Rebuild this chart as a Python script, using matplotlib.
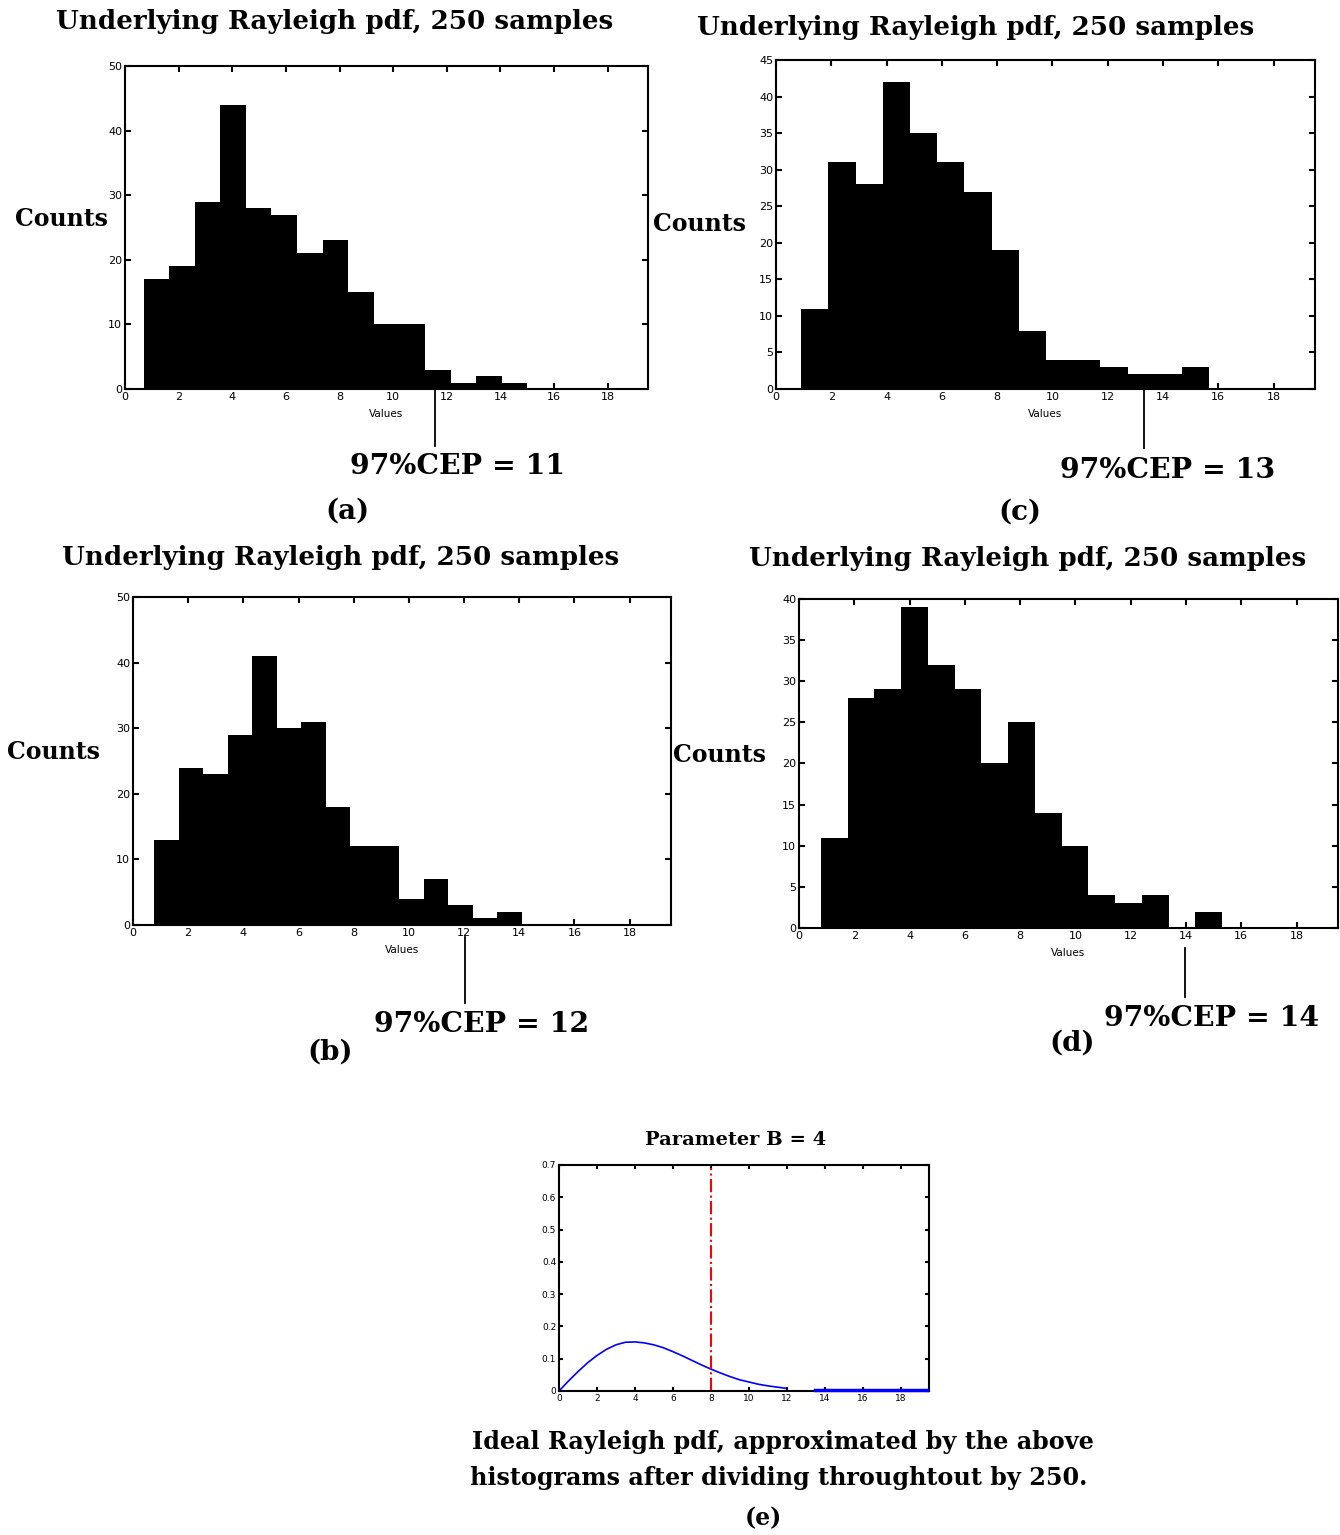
import numpy as np
import matplotlib
matplotlib.use("Agg")
import matplotlib.pyplot as plt

W, H = 1340, 1535

# histogram counts (250 samples each), 15 bins
counts_a = [17, 19, 29, 44, 28, 27, 21, 23, 15, 10, 10, 3, 1, 2, 1]
range_a = (0.69, 15.0)
cep_a = 11.55

counts_b = [13, 24, 23, 29, 41, 30, 31, 18, 12, 12, 4, 7, 3, 1, 2]
range_b = (0.76, 14.1)
cep_b = 12.05

counts_c = [11, 31, 28, 42, 35, 31, 27, 19, 8, 4, 4, 3, 2, 2, 3]
range_c = (0.91, 15.67)
cep_c = 13.3

counts_d = [11, 28, 29, 39, 32, 29, 20, 25, 14, 10, 4, 3, 4, 0, 2]
range_d = (0.79, 15.31)
cep_d = 13.98

# ideal Rayleigh pdf (B = 4)
pdf_x = [0, 0.5, 1, 1.5, 2, 2.5, 3, 3.5, 4, 4.5, 5, 5.5, 6, 6.5, 7, 7.5, 8,
         8.5, 9, 9.5, 10, 10.5, 11, 11.5, 12]
pdf_y = [0, 0.031, 0.060, 0.087, 0.110, 0.129, 0.143, 0.151, 0.152, 0.149,
         0.143, 0.134, 0.122, 0.109, 0.095, 0.081, 0.068, 0.056, 0.045,
         0.035, 0.028, 0.021, 0.016, 0.012, 0.008]
tail_x = [13.5, 19.4]
tail_y = [0.003, 0.003]
cep_line_x = 8
cep_line_top = 0.69

title_txt = "Underlying Rayleigh pdf, 250 samples"
serif = "DejaVu Serif"

fig = plt.figure(figsize=(W / 100, H / 100), dpi=100)


def rect(x0, y0, x1, y1):
    return [x0 / W, 1 - y1 / H, (x1 - x0) / W, (y1 - y0) / H]


def ftext(x, y, s, size, **kw):
    fig.text(x / W, 1 - y / H, s, ha="center", va="center", family=serif,
             fontweight="bold", fontsize=size, **kw)


def style(ax):
    ax.tick_params(direction="in", top=True, right=True, length=4, width=1.5,
                   labelsize=8, pad=2)
    for s in ax.spines.values():
        s.set_linewidth(1.5)


def hist_panel(box, counts, rng, ymax, ystep, cep, y0, y1):
    ax = fig.add_axes(rect(*box))
    edges = np.linspace(rng[0], rng[1], len(counts) + 1)
    ax.stairs(counts, edges, fill=True, color="black", linewidth=0)
    ax.set_xlim(0, 19.5)
    ax.set_ylim(0, ymax)
    ax.set_xticks(range(0, 19, 2))
    ax.set_yticks(np.arange(0, ymax + 1, ystep))
    ax.set_xlabel("Values", fontsize=7.5, labelpad=5)
    style(ax)
    # CEP marker below the axis, pixel offsets from the bottom spine
    hgt = box[3] - box[1]
    ax.plot([cep, cep], [-y0 / hgt, -y1 / hgt], transform=ax.get_xaxis_transform(),
            clip_on=False, color="black", lw=1.3)
    return ax


# (a)
hist_panel((125, 66, 648, 389), counts_a, range_a, 50, 10, cep_a, 0, 57)
ftext(335, 22, title_txt, 18.8)
ftext(62, 219, "Counts", 17)
ftext(458, 466, "97%CEP = 11", 20.4)
ftext(347, 511, "(a)", 20)

# (c)
hist_panel((776, 60, 1315, 389), counts_c, range_c, 45, 5, cep_c, 0, 59)
ftext(976, 28, title_txt, 18.8)
ftext(700, 224, "Counts", 17)
ftext(1168, 470, "97%CEP = 13", 20.4)
ftext(1020, 512, "(c)", 20)

# (b)
hist_panel((133, 597, 671, 925), counts_b, range_b, 50, 10, cep_b, 12, 78)
ftext(341, 557, title_txt, 18.8)
ftext(54, 752, "Counts", 17)
ftext(482, 1024, "97%CEP = 12", 20.4)
ftext(330, 1052, "(b)", 20)

# (d)
hist_panel((799, 599, 1338, 928), counts_d, range_d, 40, 5, cep_d, 20, 69)
ftext(1028, 558, title_txt, 18.8)
ftext(720, 755, "Counts", 17)
ftext(1212, 1018, "97%CEP = 14", 20.4)
ftext(1072, 1043, "(d)", 20)

# (e)
ax = fig.add_axes(rect(559, 1165, 929, 1391))
ax.plot(pdf_x, pdf_y, color="blue", lw=1.2)
ax.plot(tail_x, tail_y, color="blue", lw=2.5, clip_on=False, zorder=3)
ax.plot([cep_line_x, cep_line_x], [0, cep_line_top], color="red", lw=1.5,
        linestyle="-.")
ax.set_xlim(0, 19.5)
ax.set_ylim(0, 0.7)
ax.set_xticks(range(0, 19, 2))
ax.set_yticks(np.arange(0, 0.71, 0.1))
ax.set_yticklabels(["0", "0.1", "0.2", "0.3", "0.4", "0.5", "0.6", "0.7"])
style(ax)
ax.tick_params(labelsize=6.5, length=3)
ftext(736, 1140, "Parameter B = 4", 14)
ftext(783, 1442, "Ideal Rayleigh pdf, approximated by the above", 17.2)
ftext(779, 1478, "histograms after dividing throughtout by 250.", 17.2)
ftext(763, 1518, "(e)", 17)

fig.savefig("out.png", dpi=100)
